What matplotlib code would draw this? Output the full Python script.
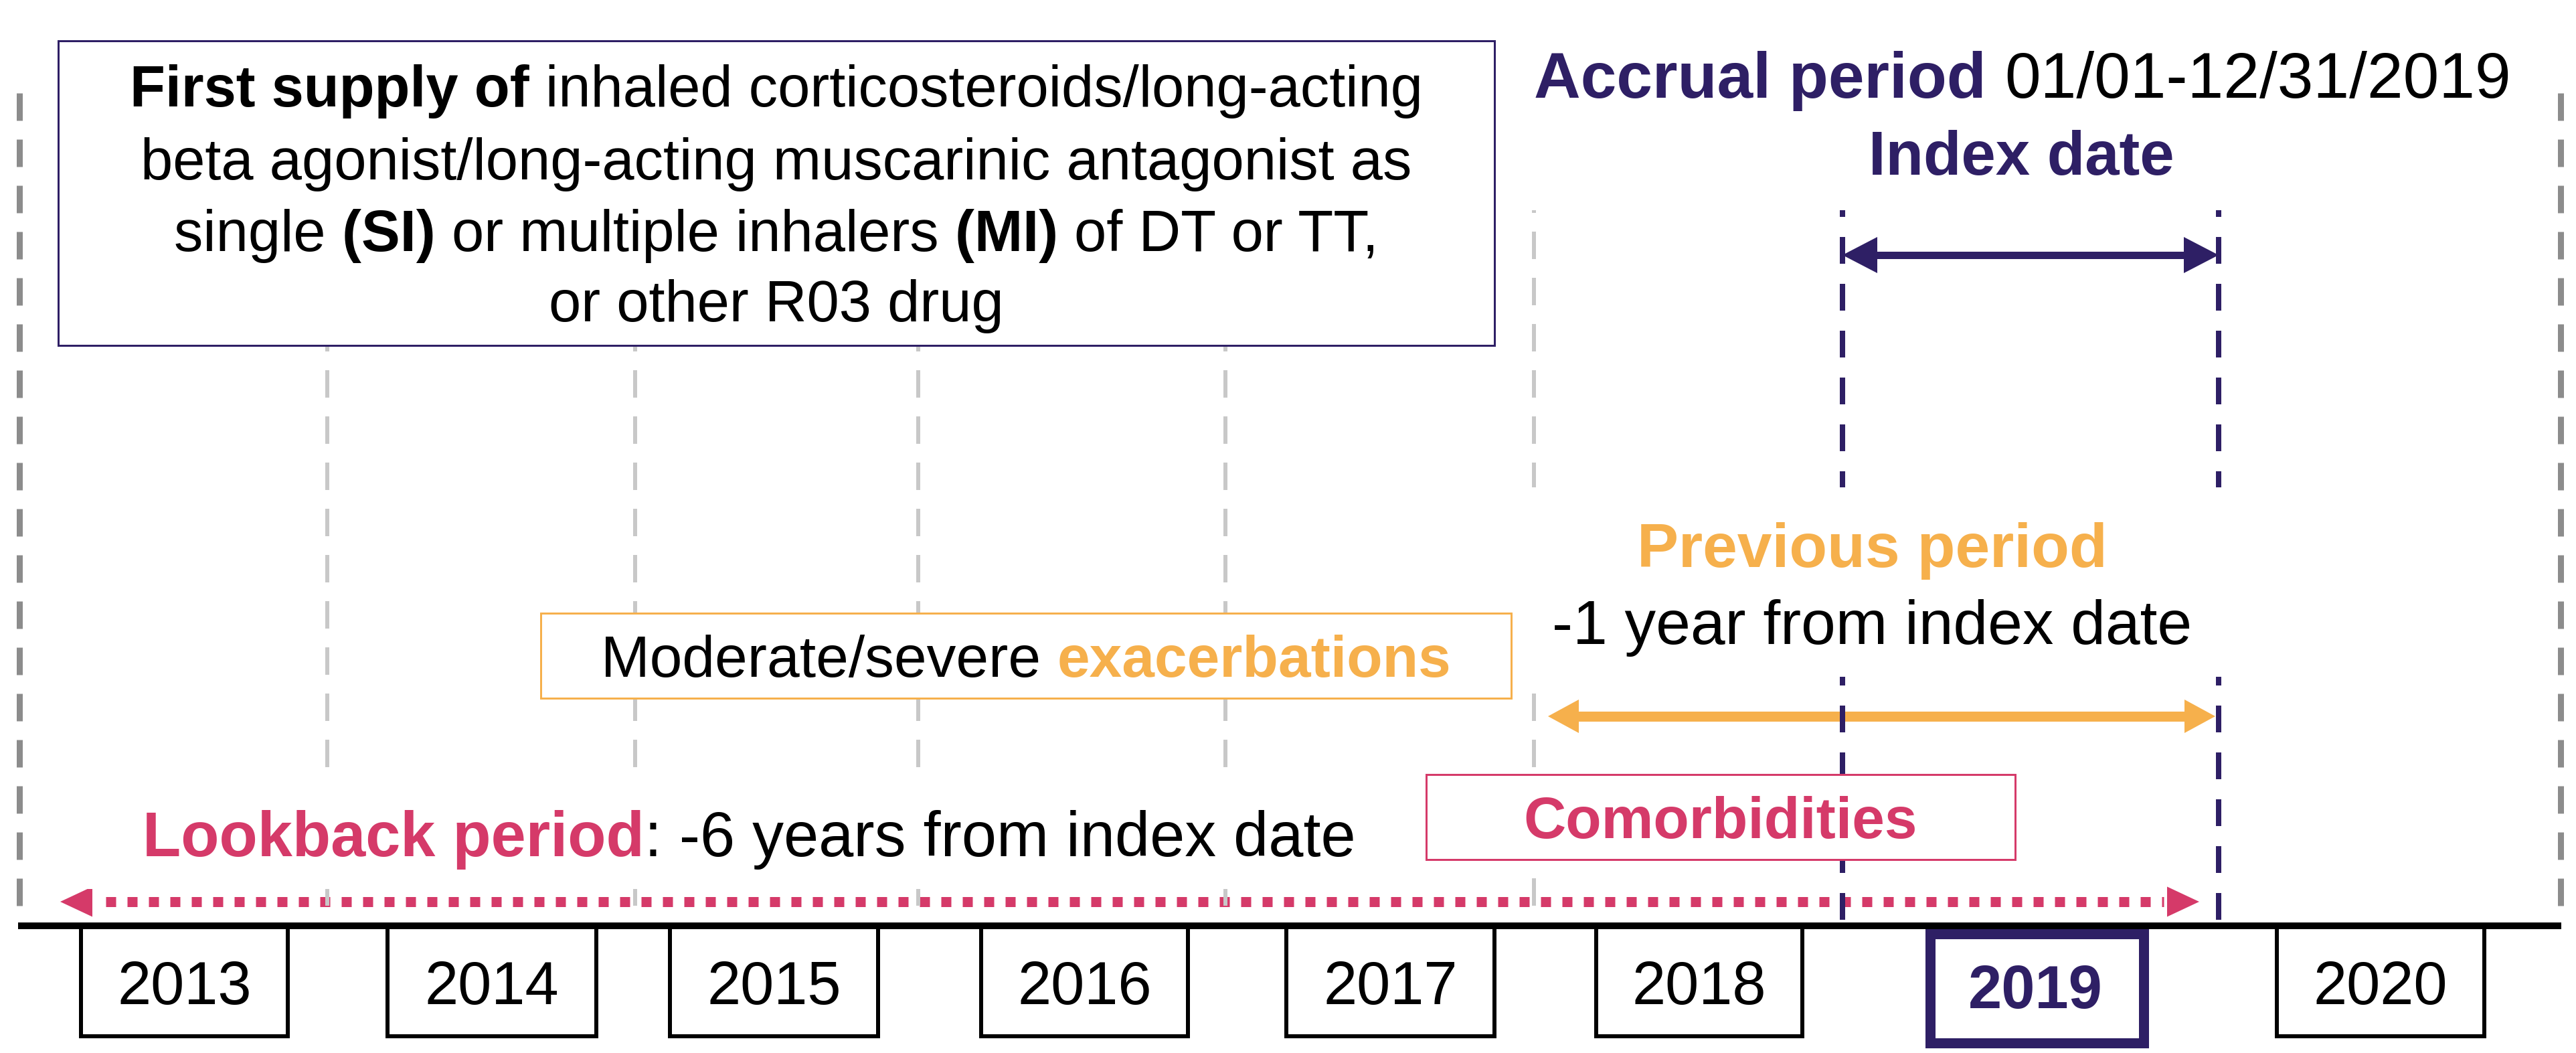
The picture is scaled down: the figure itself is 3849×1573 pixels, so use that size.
import matplotlib
matplotlib.use("Agg")
import matplotlib.pyplot as plt
from matplotlib.patches import Rectangle, Polygon

# ---------------- data ----------------
years = [2013, 2014, 2015, 2016, 2017, 2018, 2019, 2020]
index_year = 2019
box_text = [
    [("First supply of ", "bold"), ("inhaled corticosteroids/long-acting", "normal")],
    [("beta agonist/long-acting muscarinic antagonist as", "normal")],
    [("single ", "normal"), ("(SI) ", "bold"), ("or multiple inhalers ", "normal"),
     ("(MI) ", "bold"), ("of DT or TT,", "normal")],
    [("or other R03 drug", "normal")],
]
accrual_label = "Accrual period "
accrual_dates = "01/01-12/31/2019"
index_label = "Index date"
previous_label = "Previous period"
previous_desc = "-1 year from index date"
exac_text = ("Moderate/severe ", "exacerbations")
lookback_label = "Lookback period"
lookback_desc = ": -6 years from index date"
comorb_label = "Comorbidities"

# ---------------- layout (pixels) ----------------
W, H, DPI = 3849, 1573, 100
PX = 72.0 / DPI
FONT = "Liberation Sans"
NAVY = "#2e1f65"
ORANGE = "#f6b04c"
PINK = "#d53a69"
GRAY_D = "#8c8c8c"
GRAY_L = "#c8c8c8"

year_left = [121, 579, 1001, 1466, 1922, 2385, 2880, 3402]
year_right = [430, 891, 1312, 1775, 2233, 2693, 3203, 3712]
base_y = 1383
line_top = 139
grid_inner = [489, 949, 1372, 1831, 2292]
grid_outer = [29, 3826]
index_lines = [2753, 3315]

fig = plt.figure(figsize=(W / DPI, H / DPI), dpi=DPI)
ax = fig.add_axes([0, 0, 1, 1])
ax.set_xlim(0, W)
ax.set_ylim(H, 0)
ax.axis("off")
r = fig.canvas.get_renderer()


def vdash(x, y0, y1, color, lw, dash, gap, z):
    ax.plot([x, x], [y0, y1], color=color, lw=lw * PX,
            linestyle=(0, (dash / lw, gap / lw)), dash_capstyle="butt",
            solid_capstyle="butt", zorder=z)


def tw(s, size, weight):
    t = ax.text(0, 0, "|" + s + "|", fontsize=size, fontweight=weight, fontfamily=FONT)
    w1 = t.get_window_extent(renderer=r).width
    t.set_text("||")
    w2 = t.get_window_extent(renderer=r).width
    t.remove()
    return w1 - w2


def rich(x, y, segs, size, ha="center"):
    widths = [tw(s, size, w) for s, w, c in segs]
    start = x - sum(widths) / 2 if ha == "center" else x
    for (s, w, c), wd in zip(segs, widths):
        ax.text(start, y, s, fontsize=size, fontweight=w, color=c, ha="left",
                va="baseline", fontfamily=FONT, zorder=7)
        start += wd


def darrow(x0, x1, y, color, shaft, hl, hh, z, dash=None):
    kw = dict(color=color, lw=shaft * PX, solid_capstyle="butt", zorder=z)
    if dash is not None:
        kw["linestyle"] = (0, (dash[0] / shaft, dash[1] / shaft))
        kw["dash_capstyle"] = "butt"
        ax.plot([x0 + hl + 20, x1 - hl - 5], [y, y], **kw)
    else:
        ax.plot([x0 + hl * 0.7, x1 - hl * 0.7], [y, y], **kw)
    ax.add_patch(Polygon([(x0, y), (x0 + hl, y - hh / 2), (x0 + hl, y + hh / 2)],
                         closed=True, color=color, lw=0, zorder=z))
    ax.add_patch(Polygon([(x1, y), (x1 - hl, y - hh / 2), (x1 - hl, y + hh / 2)],
                         closed=True, color=color, lw=0, zorder=z))


# vertical dashed guides
for x in grid_outer:
    vdash(x, line_top, base_y - 4, GRAY_D, 9, 41, 28, 4.5)
for x in grid_inner:
    vdash(x, line_top, base_y - 4, GRAY_L, 6, 41, 28, 4.5)
for x in index_lines:
    vdash(x, line_top + 5, base_y - 4, NAVY, 8, 40, 30, 4.6)

# white background patches
for (x0, y0, x1, y1) in [(2252, 28, 3788, 314), (2254, 728, 3348, 1011), (103, 1164, 2130, 1328)]:
    ax.add_patch(Rectangle((x0, y0), x1 - x0, y1 - y0, facecolor="white",
                           edgecolor="none", lw=0, zorder=5))

# top-left box
ax.add_patch(Rectangle((87, 61), 2233 - 87, 516 - 61, facecolor="white",
                       edgecolor=NAVY, lw=3 * PX, zorder=5))
for line, yb in zip(box_text, [159, 268, 375, 480]):
    rich(1160, yb, [(s, w, "black") for s, w in line], 62.5)

# accrual / index date
rich(3022, 146, [(accrual_label, "bold", NAVY), (accrual_dates, "normal", "black")], 69.5)
rich(3020, 261, [(index_label, "bold", NAVY)], 66.5)
darrow(index_lines[0], index_lines[1], 381, NAVY, 11, 52, 54, 4)

# previous period
rich(2797, 847, [(previous_label, "bold", ORANGE)], 67)
rich(2797, 962, [(previous_desc, "normal", "black")], 67)
darrow(2313, 3310, 1070, ORANGE, 15, 46, 50, 4)

# exacerbations box
ax.add_patch(Rectangle((808, 916), 2258 - 808, 1043 - 916, facecolor="white",
                       edgecolor=ORANGE, lw=3 * PX, zorder=5))
rich(1533, 1011, [(exac_text[0], "normal", "black"), (exac_text[1], "bold", ORANGE)], 63)

# comorbidities box
ax.add_patch(Rectangle((2131, 1157), 3011 - 2131, 1284 - 1157, facecolor="white",
                       edgecolor=PINK, lw=3 * PX, zorder=5))
rich(2571, 1252, [(comorb_label, "bold", PINK)], 63)

# lookback
rich(213, 1279, [(lookback_label, "bold", PINK), (lookback_desc, "normal", "black")], 67.5, ha="left")
darrow(90, 3286, 1347, PINK, 15, 48, 45, 4, dash=(15, 17))

# baseline
ax.plot([27, 3827], [base_y, base_y], color="black", lw=10 * PX,
        solid_capstyle="butt", zorder=6)

# year boxes
for yr, x0, x1 in zip(years, year_left, year_right):
    cx = (x0 + x1) / 2
    if yr == index_year:
        ax.add_patch(Rectangle((x0 + 4, 1395), x1 - x0 - 4, 1558 - 1395, facecolor="white",
                               edgecolor=NAVY, lw=15 * PX, zorder=5))
        ax.text(cx, 1506, str(yr), fontsize=65, fontweight="bold", color=NAVY,
                ha="center", va="baseline", fontfamily=FONT, zorder=7)
    else:
        ax.add_patch(Rectangle((x0, base_y), x1 - x0, 1548 - base_y, facecolor="white",
                               edgecolor="black", lw=6 * PX, zorder=5))
        ax.text(cx, 1500, str(yr), fontsize=65, color="black",
                ha="center", va="baseline", fontfamily=FONT, zorder=7)

fig.savefig("out.png", dpi=DPI, facecolor="white")
